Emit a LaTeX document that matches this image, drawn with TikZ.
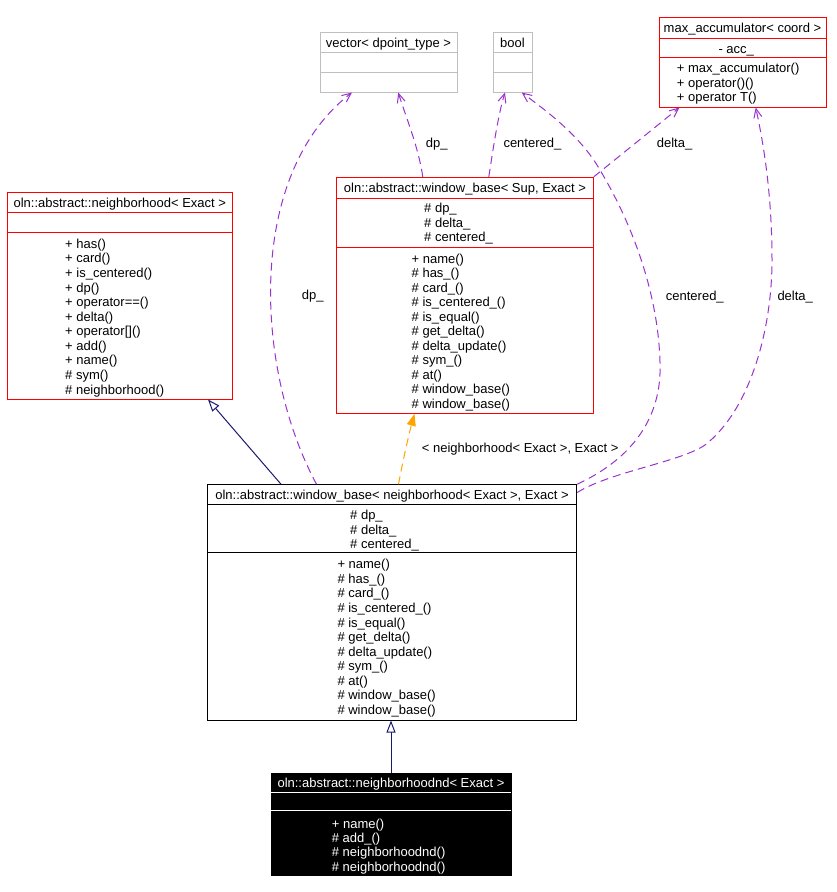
\documentclass[tikz,border=0pt]{standalone}
\usepackage{fontspec}
\setmainfont{Liberation Sans}
\usetikzlibrary{arrows.meta}
\definecolor{dred}{HTML}{FF0000}
\definecolor{dgray}{HTML}{BFBFBF}
\definecolor{dpurple}{HTML}{9A32CD}
\definecolor{dorange}{HTML}{FFA500}
\definecolor{dnavy}{HTML}{191970}
\begin{document}
\begin{tikzpicture}[x=1pt,y=-1pt,font=\fontsize{13}{14.5}\selectfont,
  box/.style={line width=1pt,inner sep=0pt},
  txt/.style={anchor=base west,inner sep=0pt},
  ttl/.style={anchor=base,inner sep=0pt},
  sep/.style={line width=1pt},
  ref/.style={dpurple,line width=1pt,dash pattern=on 8pt off 5pt,-{Straight Barb[length=9pt,width=8pt]}},
  gen/.style={dnavy,line width=1pt,-{Triangle[open,length=12pt,width=9pt,fill=white]}},
  inst/.style={dorange,line width=1pt,dash pattern=on 8pt off 5pt,-{Triangle[length=12pt,width=9pt]}},
  lbl/.style={anchor=base west,inner sep=0pt}]
\useasboundingbox (0,0) rectangle (837,892);

% ---------- boxes ----------
\node[box,draw=dgray,minimum width=137pt,minimum height=60pt] (vec) at (388.5,62) {};
\draw[sep,dgray] (320,52) -- (457,52) (320,72) -- (457,72);
\node[ttl] (vect) at (388.5,47) {vector< dpoint\_type >};

\node[box,draw=dgray,minimum width=39pt,minimum height=60pt] (bool) at (512.5,62) {};
\draw[sep,dgray] (493,52) -- (532,52) (493,72) -- (532,72);
\node[ttl] (boolt) at (512.5,47) {bool};

\node[box,draw=dred,minimum width=167pt,minimum height=90pt] (maxacc) at (742.5,62) {};
\draw[sep,dred] (659,38.3) -- (826,38.3) (659,57.7) -- (826,57.7);
\node[ttl] (maxacct) at (742.5,32.3) {max\_accumulator< coord >};
\node[txt] (maxacca1) at (718.3,53) {- acc\_};
\foreach \t [count=\i] in {{+ max\_accumulator()},{+ operator()()},{+ operator T()}}
  \node[txt] (maxaccm\i) at (676.7,{72.5+(\i-1)*14.5}) {\t};

\node[box,draw=dred,minimum width=256.6pt,minimum height=236pt] (wbsup) at (465,295.3) {};
\draw[sep,dred] (336.7,198) -- (593.3,198) (336.7,247.3) -- (593.3,247.3);
\node[ttl] (wbsupt) at (465,192) {oln::abstract::window\_base< Sup, Exact >};
\foreach \t [count=\i] in {{\# dp\_},{\# delta\_},{\# centered\_}}
  \node[txt] (wbsupa\i) at (424,{212.6+(\i-1)*14.6}) {\t};
\foreach \t [count=\i] in {{+ name()},{\# has\_()},{\# card\_()},{\# is\_centered\_()},{\# is\_equal()},{\# get\_delta()},{\# delta\_update()},{\# sym\_()},{\# at()},{\# window\_base()},{\# window\_base()}}
  \node[txt] (wbsupm\i) at (411.5,{263.3+(\i-1)*14.5}) {\t};

\node[box,draw=dred,minimum width=225pt,minimum height=206.7pt] (nbh) at (119.8,295.65) {};
\draw[sep,dred] (7.3,212.7) -- (232.3,212.7) (7.3,232.7) -- (232.3,232.7);
\node[ttl] (nbht) at (119.8,207.3) {oln::abstract::neighborhood< Exact >};
\foreach \t [count=\i] in {{+ has()},{+ card()},{+ is\_centered()},{+ dp()},{+ operator==()},{+ delta()},{+ operator[]()},{+ add()},{+ name()},{\# sym()},{\# neighborhood()}}
  \node[txt] (nbhm\i) at (65,{248.3+(\i-1)*14.57}) {\t};

\node[box,draw=black,minimum width=369.4pt,minimum height=235.3pt] (wbn) at (392,602.35) {};
\draw[sep,black] (207.3,504) -- (576.7,504) (207.3,552.7) -- (576.7,552.7);
\node[ttl] (wbnt) at (392,499.5) {oln::abstract::window\_base< neighborhood< Exact >, Exact >};
\foreach \t [count=\i] in {{\# dp\_},{\# delta\_},{\# centered\_}}
  \node[txt] (wbna\i) at (350,{519.5+(\i-1)*14.5}) {\t};
\foreach \t [count=\i] in {{+ name()},{\# has\_()},{\# card\_()},{\# is\_centered\_()},{\# is\_equal()},{\# get\_delta()},{\# delta\_update()},{\# sym\_()},{\# at()},{\# window\_base()},{\# window\_base()}}
  \node[txt] (wbnm\i) at (337.3,{568.7+(\i-1)*14.58}) {\t};

\node[box,draw=black,fill=black,minimum width=240pt,minimum height=101.7pt] (nbhnd) at (391,824.15) {};
\draw[sep,white] (271,792.3) -- (511,792.3) (271,810.7) -- (511,810.7);
\node[ttl,text=white] (nbhndt) at (391,787) {oln::abstract::neighborhoodnd< Exact >};
\foreach \t [count=\i] in {{+ name()},{\# add\_()},{\# neighborhoodnd()},{\# neighborhoodnd()}}
  \node[txt,text=white] (nbhndm\i) at (331.7,{828+(\i-1)*14.4}) {\t};

% ---------- connectors ----------
\draw[gen] (nbhnd.north) -- (nbhnd.north |- wbn.south);
\draw[gen] ([xshift=74.2pt]wbn.north west) -- ([xshift=201.2pt]nbh.south west);
\draw[inst] ([xshift=191.7pt]wbn.north west) .. controls (404,455) and (410,430) .. ([xshift=78.3pt]wbsup.south west);
\node[lbl] (linst) at (421.7,452) {< neighborhood< Exact >, Exact >};

\draw[ref] ([xshift=109.7pt]wbn.north west) .. controls (255,370) and (245,175) .. ([xshift=-36.5pt]vec.south);
\node[lbl] (ldp1) at (301.7,299.5) {dp\_};
\draw[ref] ([xshift=86.6pt]wbsup.north west) .. controls (418,145) and (405,115) .. ([xshift=9.8pt]vec.south);
\node[lbl] (ldp2) at (425.7,147.5) {dp\_};
\draw[ref] ([xshift=152.6pt]wbsup.north west) .. controls (493,150) and (498,115) .. ([xshift=-7.5pt]bool.south);
\node[lbl] (lcen2) at (503.3,147.5) {centered\_};
\draw[ref] (wbsup.north east) -- ([xshift=21pt]maxacc.south west);
\node[lbl] (ldel2) at (656.7,147.5) {delta\_};
\draw[ref] (wbn.north east) .. controls (640,455) and (662,410) .. (660,362)
  .. controls (658,290) and (630,220) .. (600,170)
  .. controls (580,135) and (545,110) .. ([xshift=9.2pt]bool.south);
\node[lbl] (lcen1) at (665.7,300) {centered\_};
\draw[ref] ([yshift=-8.3pt]wbn.north east) .. controls (610,472) and (680,462) .. (705,445)
  .. controls (750,410) and (772,330) .. (772,260)
  .. controls (772,200) and (765,150) .. ([xshift=13.2pt]maxacc.south);
\node[lbl] (ldel1) at (777.3,300) {delta\_};
\end{tikzpicture}
\end{document}
